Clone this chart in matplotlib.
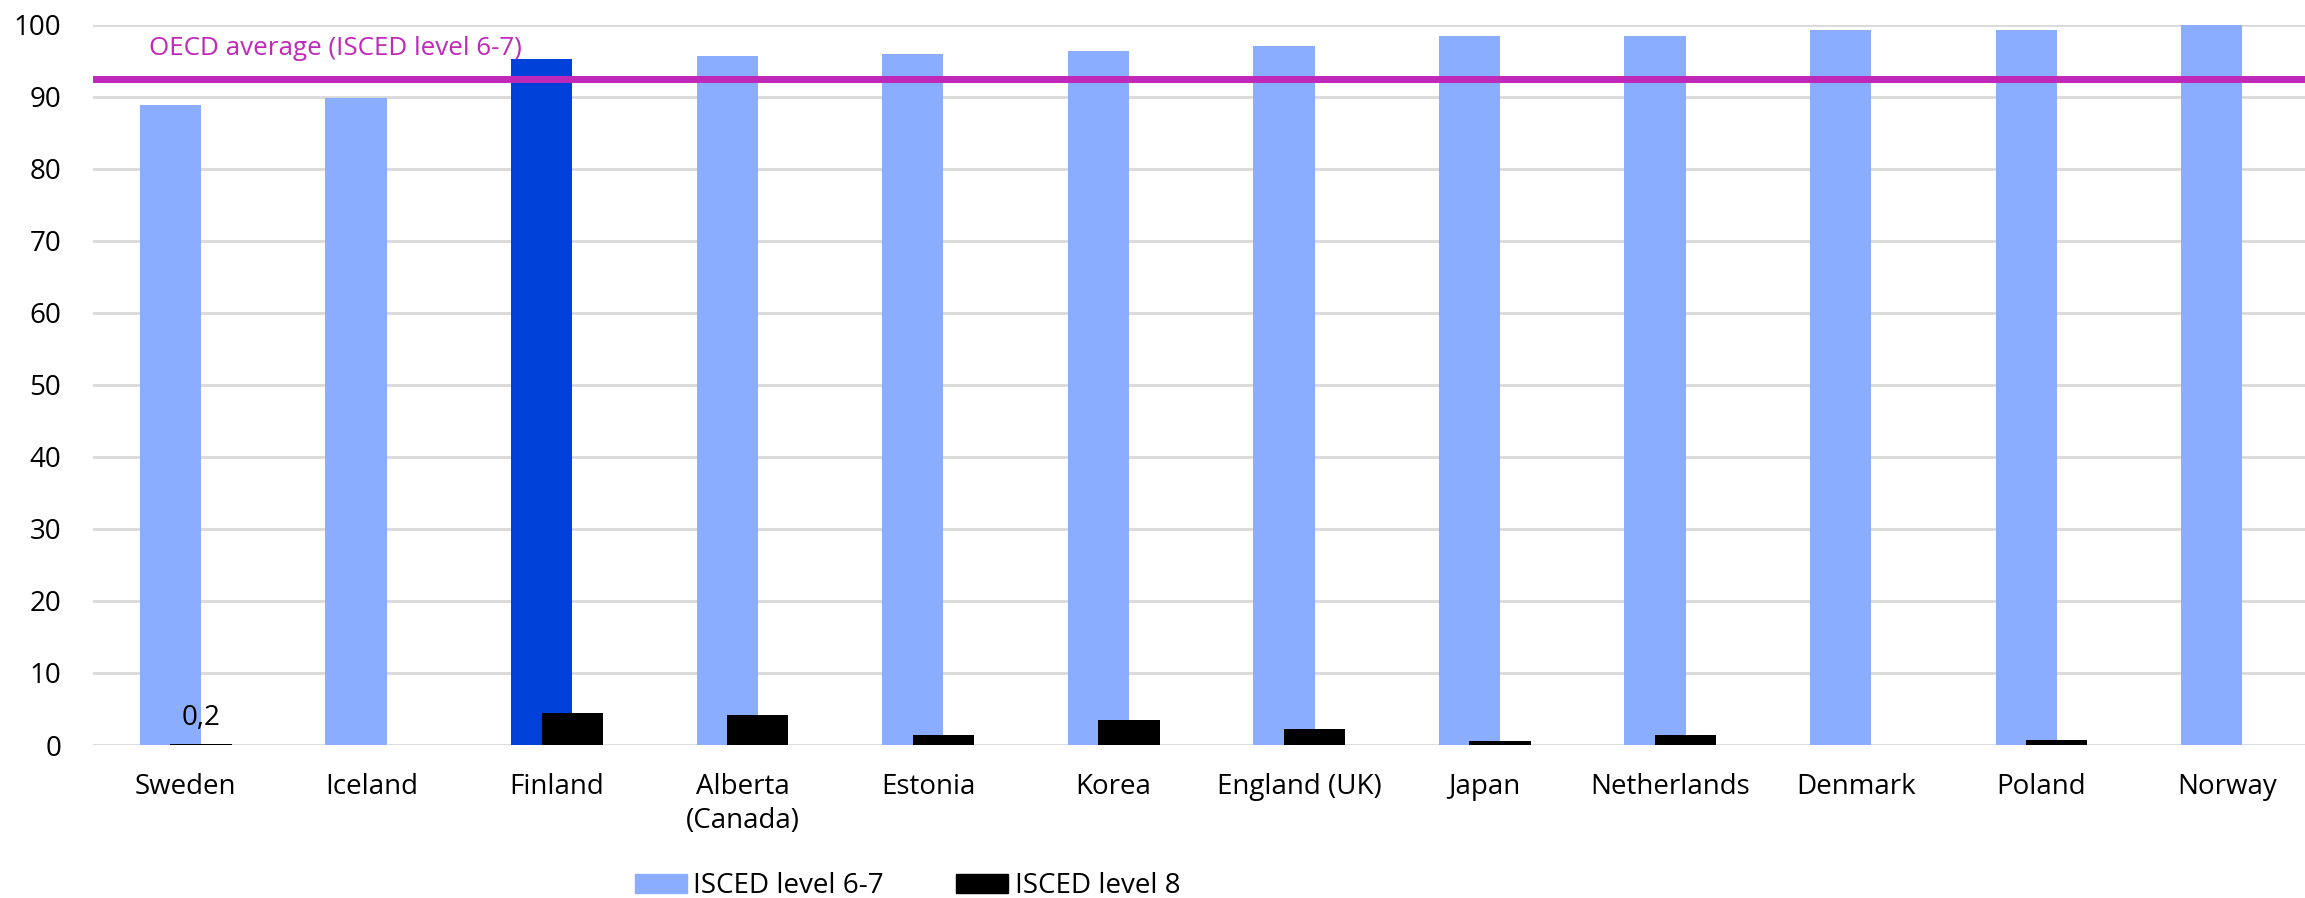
import matplotlib.pyplot as plt
import matplotlib.patches as mpatches
import numpy as np

# values (percent)
countries = ["Sweden", "Iceland", "Finland", "Alberta\n(Canada)", "Estonia", "Korea",
             "England (UK)", "Japan", "Netherlands", "Denmark", "Poland", "Norway"]
isced_67 = [88.9, 89.8, 95.3, 95.7, 95.9, 96.4, 97.0, 98.4, 98.5, 99.2, 99.2, 100.0]
isced_8 = [0.2, np.nan, 4.4, 4.2, 1.4, 3.5, 2.2, 0.6, 1.4, np.nan, 0.7, np.nan]
oecd_avg_67 = 92.4
highlight = "Finland"
yticks = list(range(0, 101, 10))

LIGHT_BLUE = "#8AADFF"
DARK_BLUE = "#0041DA"
MAGENTA = "#C028B9"
GRID = "#D9D9D9"

plt.rcParams["font.family"] = ["Open Sans", "DejaVu Sans"]
plt.rcParams["font.size"] = 20

W, H = 2305, 898
fig = plt.figure(figsize=(W / 100, H / 100), dpi=100)
ax = fig.add_axes([93 / W, 153 / H, (W - 93) / W, (745 - 24.7) / H])

x = np.arange(len(countries))
w = 0.33
colors = [DARK_BLUE if c == highlight else LIGHT_BLUE for c in countries]
ax.bar(x - w / 4, isced_67, w, color=colors, zorder=2)
ax.bar(x + w / 4, isced_8, w, color="black", zorder=3)

ax.axhline(oecd_avg_67, color=MAGENTA, lw=5, zorder=4)
ax.text(-0.2, 95.8, "OECD average (ISCED level 6-7)", color=MAGENTA,
        ha="left", va="baseline", fontsize=18.7)

# only the Sweden level-8 bar carries a label
ax.text(0 + w / 4, isced_8[0] + 2.6, "0,2", ha="center", va="baseline")

ax.set_xlim(-0.5, 11.42)
ax.set_ylim(0, 100)
ax.set_yticks(yticks)
ax.set_xticks(x, countries, linespacing=1.3)
ax.tick_params(axis="both", length=0)
ax.tick_params(axis="y", pad=23)
ax.tick_params(axis="x", pad=20)
ax.yaxis.grid(True, color=GRID, lw=2)
ax.set_axisbelow(True)
for s in ax.spines.values():
    s.set_visible(False)

handles = [mpatches.Patch(color=LIGHT_BLUE), mpatches.Patch(color="black")]
fig.legend(handles, ["ISCED level 6-7", "ISCED level 8"], loc="center left",
           bbox_to_anchor=(624 / W, 1 - 886 / H), ncol=2, frameon=False,
           handlelength=1.85, handleheight=0.7, handletextpad=0.25,
           columnspacing=2.6, borderaxespad=0)

fig.savefig("out.png", dpi=100)
